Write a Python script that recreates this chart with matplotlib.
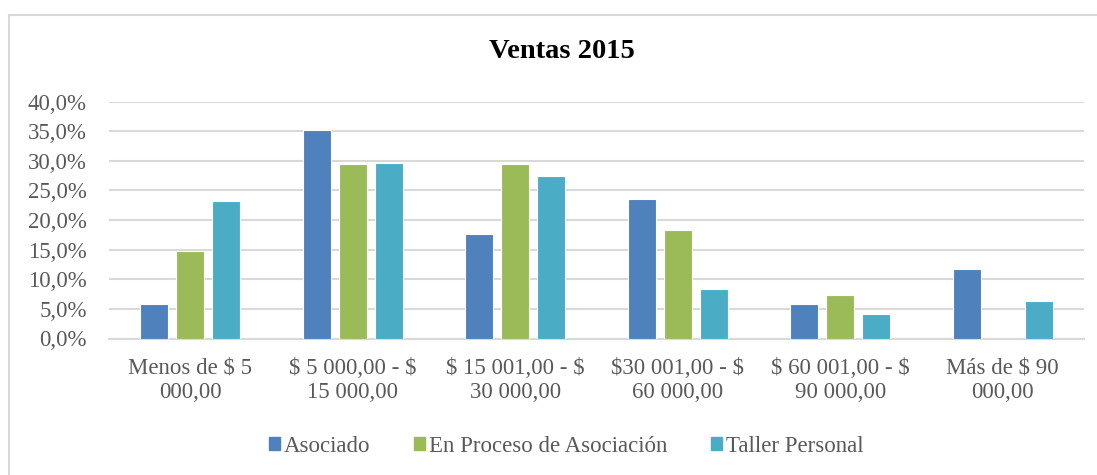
import matplotlib
matplotlib.use("Agg")
import matplotlib.pyplot as plt
import numpy as np
from matplotlib.patches import Rectangle
from matplotlib.lines import Line2D
from matplotlib.ticker import FuncFormatter, MultipleLocator

categories = ["Menos de \\$ 5\n000,00", "\\$ 5 000,00 - \\$\n15 000,00", "\\$ 15 001,00 - \\$\n30 000,00",
              "\\$30 001,00 - \\$\n60 000,00", "\\$ 60 001,00 - \\$\n90 000,00", "Más de \\$ 90\n000,00"]
series_names = ["Asociado", "En Proceso de Asociación", "Taller Personal"]
asociado = [5.9, 35.3, 17.6, 23.5, 5.9, 11.8]
en_proceso = [14.7, 29.5, 29.5, 18.4, 7.4, 0.0]
taller = [23.3, 29.6, 27.5, 8.4, 4.2, 6.3]
colors = ["#4F81BD", "#9BBB59", "#4BACC6"]

plt.rcParams['font.family'] = ['Liberation Serif', 'DejaVu Serif']

W, H = 1097, 475
fig = plt.figure(figsize=(W/100, H/100), dpi=100)
ax = fig.add_axes([109/W, 1 - 338.5/H, (1084-109)/W, (338.5-101.7)/H])

x = np.arange(len(categories))
pitch = 0.2215
width = 0.172
for i, (vals, c, name) in enumerate(zip([asociado, en_proceso, taller], colors, series_names)):
    ax.bar(x + (i-1)*pitch, vals, width=width, color=c, edgecolor="white", linewidth=0.8, zorder=3, label=name)

ax.set_xlim(-0.5, len(categories)-0.5)
ax.set_ylim(0, 40)
ax.yaxis.set_major_locator(MultipleLocator(5))
ax.yaxis.set_major_formatter(FuncFormatter(lambda v, p: f"{v:.1f}%".replace(".", ",")))
ax.grid(axis="y", color="#D9D9D9", linewidth=1.5, zorder=0)
ax.set_axisbelow(True)
for s in ["top", "right", "left"]:
    ax.spines[s].set_visible(False)
ax.spines["bottom"].set_color("#D9D9D9")
ax.spines["bottom"].set_linewidth(1.5)
ax.set_xticks(x)
ax.set_xticklabels(categories, fontsize=16.5, color="#595959", linespacing=1.2)
ax.tick_params(axis="x", length=0, pad=14)
ax.tick_params(axis="y", length=0, labelsize=16.5, labelcolor="#595959", pad=16)

fig.text(562/W, 1 - 52/H, "Ventas 2015", ha="center", va="center", fontsize=20.5, fontweight="bold", color="black")

handles = [Rectangle((0, 0), 1, 1, color=c) for c in colors]
leg = fig.legend(handles, series_names, loc="center", bbox_to_anchor=(566/W, 1 - 446/H), ncol=3,
                 frameon=False, fontsize=16.5, handlelength=0.5, handleheight=0.5, handletextpad=0.15,
                 columnspacing=1.9, labelcolor="#595959")

# outer border
fig.add_artist(Line2D([9/W, 9/W], [0, 1 - 14.5/H], color="#D9D9D9", linewidth=1.5, transform=fig.transFigure))
fig.add_artist(Line2D([9/W, 1096/W], [1 - 14.5/H, 1 - 14.5/H], color="#D9D9D9", linewidth=1.5, transform=fig.transFigure))

fig.savefig("out.png", dpi=100)
